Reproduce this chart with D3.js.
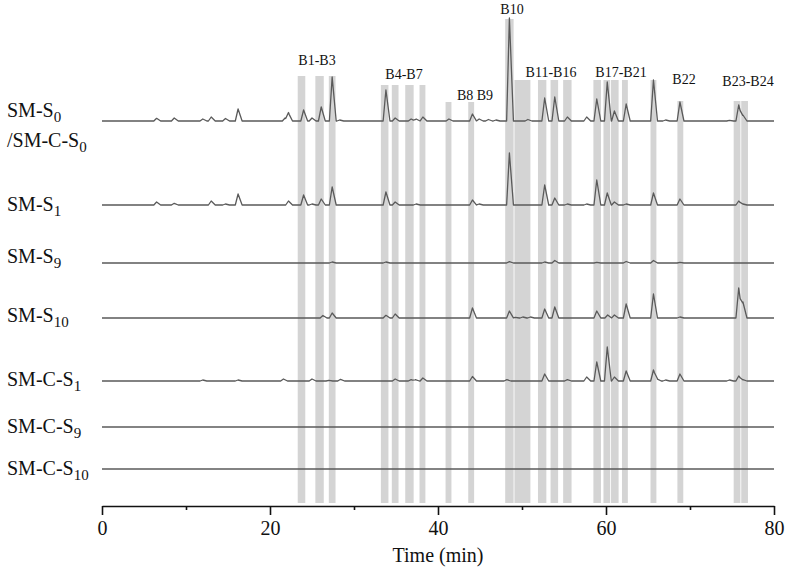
<!DOCTYPE html>
<html>
<head>
<meta charset="utf-8">
<script src="https://cdn.jsdelivr.net/npm/d3@7"></script>
<style>
  body { margin: 0; background: #fff; }
  text { font-family: "Liberation Serif", "Times New Roman", serif; fill: #111; }
</style>
</head>
<body>
<div id="container"></div>
<script>
// sample labels: [main text, subscript] per line
var sampleLabels = [
  [["SM-S", "0"], ["/SM-C-S", "0"]],
  [["SM-S", "1"]],
  [["SM-S", "9"]],
  [["SM-S", "10"]],
  [["SM-C-S", "1"]],
  [["SM-C-S", "9"]],
  [["SM-C-S", "10"]]
];

// peaks per trace: [retention time (min), intensity]
var peaksS0 = [[6.5,2.7],[8.6,3],[12.0,2],[13.0,4],[14.7,2.5],[16.2,12],[21.8,3],[22.2,8],[24.0,11],
  [25.0,3],[26.1,14],[27.4,44],[28.3,1],[33.8,31],[34.9,3],[36.8,2],[37.4,2],[38.2,4],[41.3,2],
  [44.1,7],[44.9,2],[46.0,1.5],[46.9,1],[48.5,103],[50.7,1.5],[52.7,23],[53.9,24],[55.4,4],[57.7,4],
  [58.9,22],[60.15,39],[61.0,10],[62.4,17],[65.65,41],[67.1,1],[68.8,19],[74.7,0.7],[75.8,16],[76.3,6]];
var peaksS1 = [[6.5,3],[8.6,1.7],[13.0,4],[14.7,1],[16.2,11],[22.2,4],[24.0,10],[25.0,1],[26.1,6],
  [27.4,18],[33.8,13],[34.9,3],[37.4,1],[44.1,5],[44.9,1],[48.5,52],[52.7,20],[53.9,7],[55.4,1],
  [57.7,1],[58.9,25],[60.15,12],[61.0,3],[62.4,1],[65.65,12],[68.8,6],[75.8,4],[76.3,1]];
var peaksS9 = [[27.4,1],[33.8,1],[48.5,1.3],[52.7,1],[53.9,2.5],[58.9,0.7],[62.4,1.5],[65.65,2.5],[68.8,0.7]];
var peaksS10 = [[26.3,2.5],[27.4,5],[33.8,2.7],[34.9,4],[44.1,10],[48.5,7],[49.2,0.7],[50.1,1],[51.0,1],
  [52.7,9],[53.9,11],[58.9,7],[60.2,3],[61.0,3],[62.4,14],[65.65,24],[68.8,1],[75.8,30],[76.3,16]];
var peaksCS1 = [[12.0,1],[16.2,1],[21.6,2],[25.0,2],[27.0,0.7],[28.4,1.7],[34.9,2],[36.8,1.3],[37.3,1.3],
  [38.2,3],[44.1,4.5],[48.2,1.3],[52.7,7],[55.4,1.3],[57.7,4],[58.9,19],[60.15,34],[61.0,4],[62.4,10],
  [65.65,11],[66.1,2],[67.1,1],[68.8,7],[74.7,1],[75.8,5],[76.3,1.3]];
var peaksCS9 = [];
var peaksCS10 = [];
var tracePeaks = [peaksS0, peaksS1, peaksS9, peaksS10, peaksCS1, peaksCS9, peaksCS10];

// marked regions (min) and their labels
var bandLabels = ["B1-B3", "B4-B7", "B8 B9", "B10", "B11-B16", "B17-B21", "B22", "B23-B24"];
var bandRanges = [
  [[23.3,24.2],[25.4,26.4],[27.0,27.8]],
  [[33.2,34.1],[34.5,35.3],[36.1,37.1],[37.8,38.5]],
  [[40.9,41.6],[43.6,44.3]],
  [[48.0,49.0]],
  [[49.1,51.0],[51.9,52.9],[53.4,54.3],[54.9,55.9]],
  [[58.5,59.4],[59.7,60.5],[60.6,61.5],[61.9,62.6],[65.3,66.0]],
  [[68.5,69.2]],
  [[75.2,76.0],[76.1,76.9]]
];

var xTicks = [0, 20, 40, 60, 80];
var xMinorTicks = [10, 30, 50, 70];

// layout
var width = 791, height = 575;
var traceY = [121, 205, 263, 318, 381, 427, 469];
var labelY = [[117, 147], [211], [263], [322], [386], [433], [475]];
var bandTop = [76, 85, 102, 19, 80, 80, 101, 101];
var bandLabelPos = [[317, 65], [404, 79], [475, 100], [512, 14], [551, 77], [621, 77], [684, 84], [748, 86]];
var axisY = 506, bandBottom = 503;

var svg = d3.select('#container').append('svg')
  .attr('width', width).attr('height', height);

var x = d3.scaleLinear().domain([0, 80]).range([102, 774]);
var h = d3.scaleLinear().domain([0, 100]).range([0, 100]);

// grey bands
bandRanges.forEach(function(group, gi) {
  svg.append('g').selectAll('rect')
    .data(group)
    .enter().append('rect')
    .attr('x', function(d) { return x(d[0]); })
    .attr('width', function(d) { return x(d[1]) - x(d[0]); })
    .attr('y', bandTop[gi])
    .attr('height', bandBottom - bandTop[gi])
    .attr('fill', '#d4d4d4');
});

svg.append('g').selectAll('text')
  .data(bandLabels)
  .enter().append('text')
  .attr('x', function(d, i) { return bandLabelPos[i][0]; })
  .attr('y', function(d, i) { return bandLabelPos[i][1]; })
  .attr('text-anchor', 'middle')
  .style('font-size', '14px')
  .text(function(d) { return d; });

// each peak drawn as a tailing triangle; trace is the sum at all breakpoints
var halfL = 0.33, halfR = 0.48;
function tracePoints(peaks) {
  var xs = [0, 80];
  peaks.forEach(function(p) { xs.push(p[0] - halfL, p[0], p[0] + halfR); });
  xs.sort(function(a, b) { return a - b; });
  return xs.map(function(t) {
    var v = 0;
    peaks.forEach(function(p) {
      if (t > p[0] - halfL && t <= p[0]) v += p[1] * (t - (p[0] - halfL)) / halfL;
      else if (t > p[0] && t < p[0] + halfR) v += p[1] * ((p[0] + halfR) - t) / halfR;
    });
    return [t, v];
  });
}

tracePeaks.forEach(function(peaks, i) {
  var line = d3.line()
    .x(function(d) { return x(d[0]); })
    .y(function(d) { return traceY[i] - h(d[1]); });
  svg.append('path')
    .datum(tracePoints(peaks))
    .attr('d', line)
    .attr('fill', 'none')
    .attr('stroke', '#5a5a5a')
    .attr('stroke-width', 1.3)
    .attr('stroke-linejoin', 'round');
});

// sample labels
sampleLabels.forEach(function(lines, i) {
  lines.forEach(function(parts, j) {
    var t = svg.append('text')
      .attr('x', 7).attr('y', labelY[i][j])
      .style('font-size', '20px');
    t.append('tspan').text(parts[0]);
    t.append('tspan').attr('dy', 5).style('font-size', '15px').text(parts[1]);
  });
});

// x axis
var axis = svg.append('g')
  .attr('transform', 'translate(0,' + axisY + ')')
  .call(d3.axisBottom(x).tickValues(xTicks).tickSize(9).tickSizeOuter(0).tickPadding(6));
axis.select('.domain').attr('stroke-width', 1.6).attr('stroke', '#111');
axis.selectAll('.tick line').attr('stroke-width', 1.6).attr('stroke', '#111');
axis.selectAll('.tick text').style('font-family', '"Liberation Serif", serif').style('font-size', '20px').attr('fill', '#111');

var minor = svg.append('g')
  .attr('transform', 'translate(0,' + axisY + ')')
  .call(d3.axisBottom(x).tickValues(xMinorTicks).tickSize(4).tickSizeOuter(0).tickFormat(''));
minor.select('.domain').remove();
minor.selectAll('.tick line').attr('stroke-width', 1.6).attr('stroke', '#111');

svg.append('text')
  .attr('x', (x(0) + x(80)) / 2).attr('y', 562)
  .attr('text-anchor', 'middle')
  .style('font-size', '20px')
  .text('Time (min)');
</script>
</body>
</html>
